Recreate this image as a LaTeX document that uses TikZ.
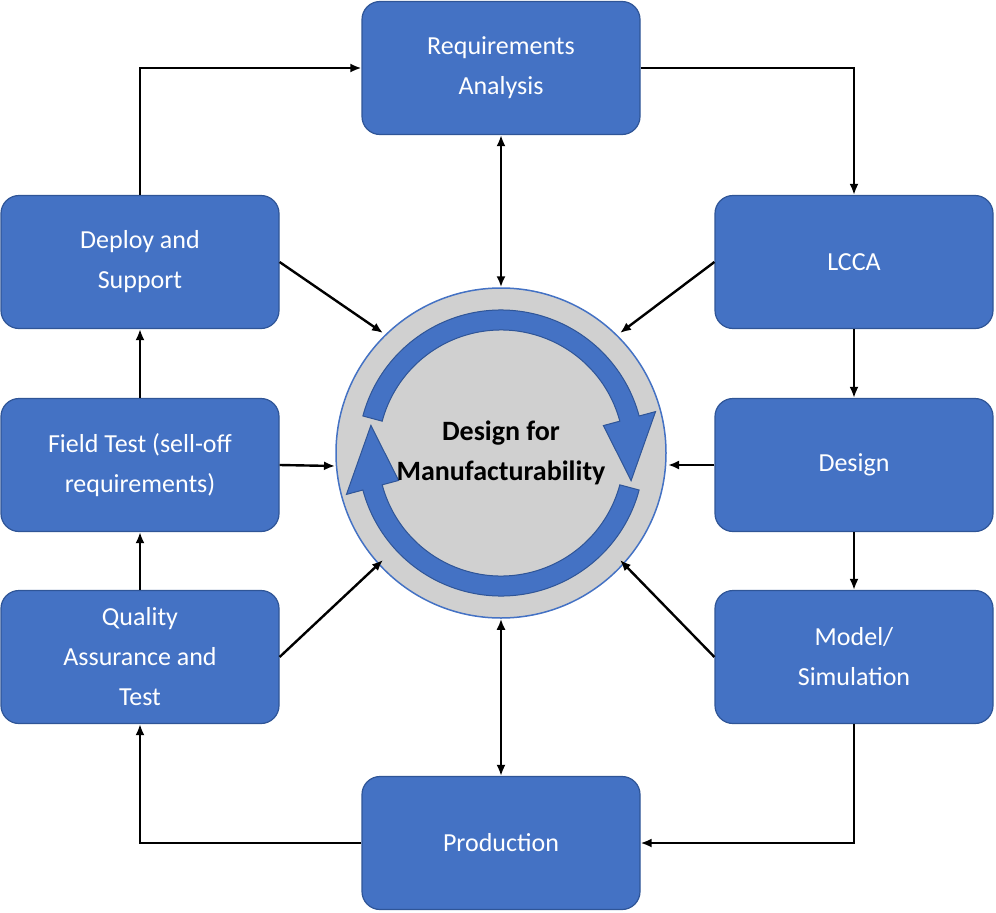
\documentclass[tikz,border=0pt]{standalone}
\usepackage{fontspec}
\setmainfont{Carlito}
\usetikzlibrary{calc,arrows.meta}
\definecolor{boxblue}{HTML}{4472C4}
\definecolor{boxedge}{HTML}{2F5597}
\definecolor{circgray}{HTML}{D0D0D0}
\definecolor{arcblue}{HTML}{4472C4}
\begin{document}
\begin{tikzpicture}[x=1pt,y=-1pt,
  stagebox/.style={draw=boxedge,line width=1.2pt,fill=boxblue,rounded corners=18pt,minimum width=278pt,minimum height=133pt,text=white,align=center,font=\fontsize{26}{40}\selectfont,inner sep=0pt},
  flow/.style={line width=2.4pt,-{Latex[length=11pt,width=9pt]}},
  both/.style={line width=2.4pt,{Latex[length=11pt,width=9pt]}-{Latex[length=11pt,width=9pt]}},
  band/.style={fill=arcblue,draw=boxedge,line width=1pt}]
\useasboundingbox (0,0) rectangle (996,913);
\node[stagebox] (req) at (501,68) {Requirements\\Analysis};
\node[stagebox] (lcca) at (854,262) {LCCA};
\node[stagebox] (des) at (854,465) {Design};
\node[stagebox] (mod) at (854,657) {Model/\\Simulation};
\node[stagebox] (prod) at (501,843) {Production};
\node[stagebox] (qa) at (140,657) {Quality\\Assurance and\\Test};
\node[stagebox] (ft) at (140,465) {Field Test (sell-off\\requirements)};
\node[stagebox] (dep) at (140,262) {Deploy and\\Support};
\coordinate (c) at (501,453);
\node[circle,draw=boxblue,line width=1.5pt,fill=circgray,minimum size=330pt,inner sep=0pt] (dfm) at (c) {};
\fill[band] ($(c)+(195:143)$) arc[start angle=195,end angle=345,radius=143] -- ($(c)+(345:160)$) -- ($(c)+(12:133)$) -- ($(c)+(345:106)$) -- ($(c)+(345:123)$) arc[start angle=345,end angle=195,radius=123] -- cycle;
\fill[band] ($(c)+(15:143)$) arc[start angle=15,end angle=165,radius=143] -- ($(c)+(165:160)$) -- ($(c)+(192:133)$) -- ($(c)+(165:106)$) -- ($(c)+(165:123)$) arc[start angle=165,end angle=15,radius=123] -- cycle;
\node[align=center,font=\fontsize{28}{40}\selectfont\bfseries] (dfmtext) at (c) {Design for\\Manufacturability};
\draw[flow] (dep.north) |- (req.west);
\draw[flow] (req.east) -| (lcca.north);
\draw[flow] (lcca.south) -- (des.north);
\draw[flow] (des.south) -- (mod.north);
\draw[flow] (mod.south) |- (prod.east);
\draw[flow] (prod.west) -| (qa.south);
\draw[flow] (qa.north) -- (ft.north |- ft.south);
\draw[flow] (ft.north) -- (dep.south);
\draw[both] (req.south) -- (dfm.north);
\draw[both] (dfm.south) -- (prod.north);
\coordinate (a1) at (383,333);
\coordinate (a2) at (620,333);
\coordinate (a3) at (335,466);
\coordinate (a4) at (668,465);
\coordinate (a5) at (383,560);
\coordinate (a6) at (620,560);
\draw[flow] (dep.east) -- (a1);
\draw[flow] (lcca.west) -- (a2);
\draw[flow] (ft.east) -- (a3);
\draw[flow] (des.west) -- (a4);
\draw[flow] (qa.east) -- (a5);
\draw[flow] (mod.west) -- (a6);
\end{tikzpicture}
\end{document}
